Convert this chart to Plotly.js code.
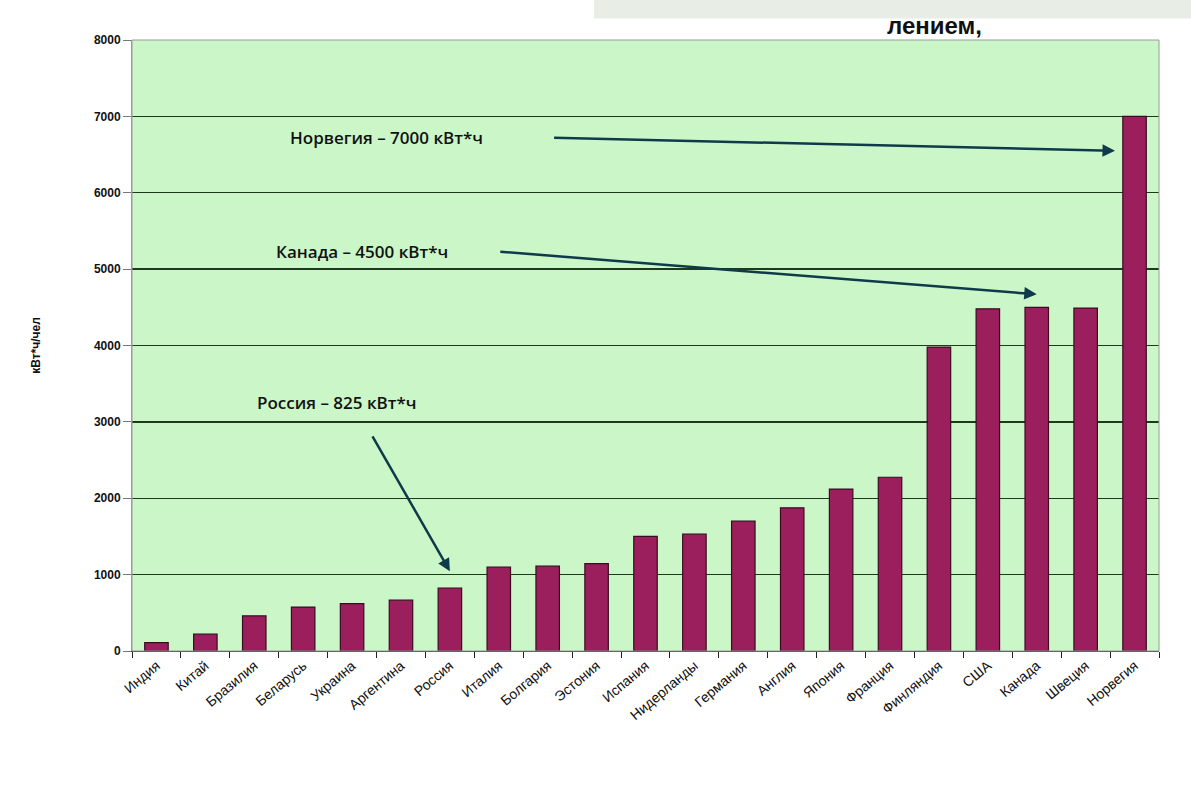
<!DOCTYPE html>
<html>
<head>
<meta charset="utf-8">
<script src="https://cdn.plot.ly/plotly-3.0.1.min.js"></script>
<style>
  html, body { margin: 0; padding: 0; background: #ffffff; }
  #chart { width: 1191px; height: 791px; }
</style>
</head>
<body>
<div id="chart"></div>
<script>
// Categories (countries) and per-capita household electricity use, kWh/person
const countries = ["Индия", "Китай", "Бразилия", "Беларусь", "Украина", "Аргентина", "Россия",
  "Италия", "Болгария", "Эстония", "Испания", "Нидерланды", "Германия", "Англия", "Япония",
  "Франция", "Финляндия", "США", "Канада", "Швеция", "Норвегия"];
const consumption = [110, 220, 460, 575, 620, 665, 825,
  1100, 1110, 1145, 1500, 1530, 1700, 1875, 2120,
  2275, 3980, 4480, 4500, 4490, 7000];

const yTicks = [0, 1000, 2000, 3000, 4000, 5000, 6000, 7000, 8000];
const yTitle = "кВт*ч/чел";
const pageTitle = "лением,";

// Callout texts and the countries they point to
const calloutTexts = ["Норвегия – 7000 кВт*ч", "Канада – 4500 кВт*ч", "Россия – 825 кВт*ч"];
const calloutTargets = ["Норвегия", "Канада", "Россия"];

const trace = {
  type: "bar",
  x: countries,
  y: consumption,
  width: 0.48,
  marker: { color: "#9a1f5c", line: { color: "#3b0b22", width: 1.2 } },
  hoverinfo: "x+y"
};

const idx = c => countries.indexOf(c);
const textFont = { family: "Open Sans, DejaVu Sans, sans-serif", size: 17, color: "#111", weight: 600 };

const annotations = [
  { x: 4.7, y: 6720, xref: "x", yref: "y", text: calloutTexts[0], showarrow: false, font: textFont },
  { x: 4.2, y: 5230, xref: "x", yref: "y", text: calloutTexts[1], showarrow: false, font: textFont },
  { x: 3.7, y: 3260, xref: "x", yref: "y", text: calloutTexts[2], showarrow: false, font: textFont },
  { x: idx(calloutTargets[0]) - 0.4, y: consumption[idx(calloutTargets[0])] - 450,
    ax: 8.1, ay: 6720, axref: "x", ayref: "y", xref: "x", yref: "y", text: "",
    showarrow: true, arrowhead: 2, arrowsize: 1, arrowwidth: 2.5, arrowcolor: "#0f3a4a" },
  { x: idx(calloutTargets[1]), y: consumption[idx(calloutTargets[1])] + 170,
    ax: 7.0, ay: 5230, axref: "x", ayref: "y", xref: "x", yref: "y", text: "",
    showarrow: true, arrowhead: 2, arrowsize: 1, arrowwidth: 2.5, arrowcolor: "#0f3a4a" },
  { x: idx(calloutTargets[2]), y: consumption[idx(calloutTargets[2])] + 220,
    ax: 4.4, ay: 2830, axref: "x", ayref: "y", xref: "x", yref: "y", text: "",
    showarrow: true, arrowhead: 2, arrowsize: 1, arrowwidth: 2.5, arrowcolor: "#0f3a4a" },
  { x: 0.83, y: 1.0, xref: "paper", yref: "paper", yshift: 30, text: "<b>" + pageTitle + "</b>",
    showarrow: false, font: { family: "Liberation Sans, Arial, sans-serif", size: 24, color: "#111" } }
];

const layout = {
  width: 1191,
  height: 791,
  paper_bgcolor: "#ffffff",
  plot_bgcolor: "#cbf6c8",
  margin: { l: 132, r: 32, t: 40, b: 140 },
  showlegend: false,
  xaxis: {
    type: "category",
    tickangle: -40,
    tickfont: { family: "Liberation Sans, Arial, sans-serif", size: 14, color: "#111" },
    showline: true, linecolor: "#333", linewidth: 1.2,
    ticks: "outside", ticklen: 6, tickcolor: "#222", tickson: "boundaries",
    showgrid: false, mirror: false
  },
  yaxis: {
    range: [0, 8000],
    tickvals: yTicks,
    ticktext: yTicks.map(v => "<b>" + v + "</b>"),
    tickfont: { family: "Liberation Sans, Arial, sans-serif", size: 12, color: "#111" },
    showgrid: true, gridcolor: "#1d3a1d", gridwidth: 1.3,
    showline: true, linecolor: "#9a9a9a", linewidth: 1,
    ticks: "outside", ticklen: 8, tickcolor: "#777",
    zeroline: false,
    title: { text: "<b>" + yTitle + "</b>", font: { family: "Liberation Sans, Arial, sans-serif", size: 12, color: "#111" }, standoff: 50 }
  },
  shapes: [
    { type: "rect", xref: "paper", yref: "paper", x0: 0, x1: 1, y0: 0, y1: 1,
      line: { color: "#9a9a9a", width: 1 }, fillcolor: "rgba(0,0,0,0)" },
    { type: "rect", xref: "paper", yref: "paper", x0: 0.45, x1: 1.05, y0: 1.035, y1: 1.09,
      line: { width: 0 }, fillcolor: "#e8eee6", layer: "below" }
  ],
  annotations: annotations
};

Plotly.newPlot("chart", [trace], layout, { displayModeBar: false, staticPlot: true });
</script>
</body>
</html>
